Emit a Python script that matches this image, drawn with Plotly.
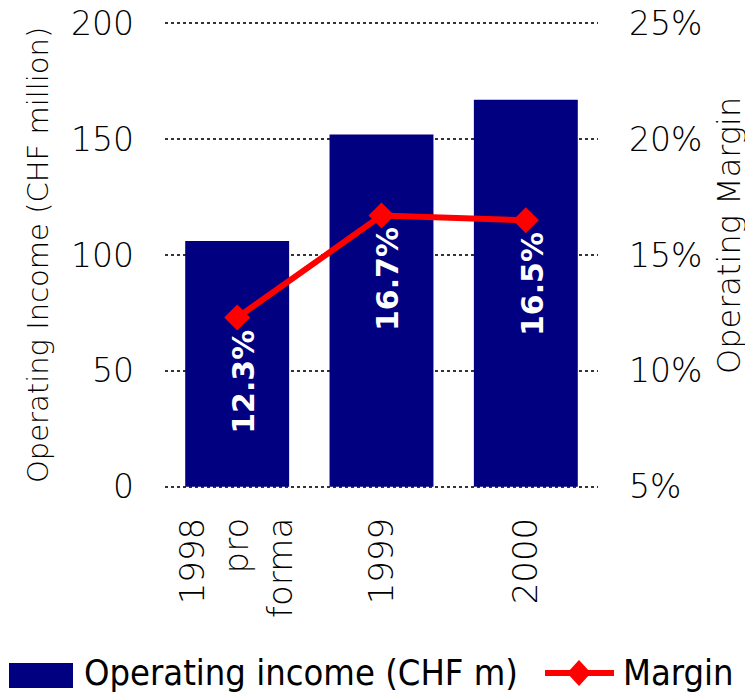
import plotly.graph_objects as go

categories = ["1998<br>pro<br>forma", "1999", "2000"]
operating_income = [106, 152, 167]
margin_pct = [12.3, 16.7, 16.5]
margin_labels = ["12.3%", "16.7%", "16.5%"]
left_ticks = [0, 50, 100, 150, 200]
right_ticks = [5, 10, 15, 20, 25]
right_tick_labels = ["5%", "10%", "15%", "20%", "25%"]
legend_names = ["Operating income (CHF m)", "Margin"]
axis_titles = ["Operating Income (CHF million)", "Operating Margin"]

FONT = "DejaVu Sans"
LEG_FONT = "DejaVu Sans Condensed"
NAVY = "#000080"
RED = "#FF0000"

fig = go.Figure()
fig.add_trace(go.Bar(
    x=categories, y=operating_income, name=legend_names[0],
    marker=dict(color=NAVY, line=dict(width=0)), yaxis="y", showlegend=False,
))
fig.add_trace(go.Scatter(
    x=categories, y=margin_pct, name=legend_names[1], yaxis="y2",
    mode="lines+markers", showlegend=False,
    line=dict(color=RED, width=6),
    marker=dict(symbol="diamond", size=20, color=RED),
))

for i, (v, t) in enumerate(zip(margin_pct, margin_labels)):
    fig.add_annotation(
        x=i, y=v, xref="x", yref="y2", text=t, showarrow=False,
        textangle=-90, yanchor="top", xanchor="center", yshift=-10, xshift=6,
        font=dict(family=FONT, size=30, color="white", weight="bold"),
    )

# paper-coordinate helpers (page pixels -> paper fraction)
W, H, L, B = 433.0, 466.0, 165.0, 488.0
def px(x):
    return (x - L) / W
def py(y):
    return (B - y) / H

# axis titles
fig.add_annotation(xref="paper", yref="paper", x=px(38), y=py(255),
                   xanchor="center", yanchor="middle", showarrow=False,
                   textangle=-90, text=axis_titles[0],
                   font=dict(family=FONT, size=29, color="black", weight=300))
fig.add_annotation(xref="paper", yref="paper", x=px(729), y=py(236),
                   xanchor="center", yanchor="middle", showarrow=False,
                   textangle=-90, text=axis_titles[1],
                   font=dict(family=FONT, size=32, color="black", weight=300))

# custom legend
fig.add_shape(type="rect", xref="paper", yref="paper",
              x0=px(9), x1=px(73), y0=py(688), y1=py(663),
              fillcolor=NAVY, line=dict(width=0))
fig.add_annotation(xref="paper", yref="paper", x=px(82), y=py(672),
                   xanchor="left", yanchor="middle", showarrow=False,
                   text=legend_names[0],
                   font=dict(family=LEG_FONT, size=36, color="black"))
fig.add_shape(type="line", xref="paper", yref="paper",
              x0=px(545), x1=px(614), y0=py(673), y1=py(673),
              line=dict(color=RED, width=6))
fig.add_shape(type="path", xref="paper", yref="paper",
              path=f"M {px(579)},{py(660)} L {px(591)},{py(673)} L {px(579)},{py(686)} L {px(567)},{py(673)} Z",
              fillcolor=RED, line=dict(width=0))
fig.add_annotation(xref="paper", yref="paper", x=px(621), y=py(672),
                   xanchor="left", yanchor="middle", showarrow=False,
                   text=legend_names[1],
                   font=dict(family=LEG_FONT, size=36, color="black"))

fig.update_layout(
    width=745, height=687,
    margin=dict(l=157, r=155, t=14, b=207, autoexpand=False),
    plot_bgcolor="white", paper_bgcolor="white",
    font=dict(family=FONT, color="black", weight=300),
    bargap=0.28,
    showlegend=False,
    xaxis=dict(
        type="category", automargin=False, range=[-0.5, 2.5],
        tickangle=-90, tickfont=dict(size=34, family=FONT, weight=300),
        showline=False, ticks="", showgrid=False, ticklabelstandoff=22,
    ),
    yaxis=dict(
        range=[-0.5, 200.5], tickvals=left_ticks, showgrid=True, automargin=False,
        gridcolor="#333333", griddash="dot", gridwidth=1.5,
        zeroline=False, showline=False, ticks="", ticklabelstandoff=30,
        ticklabeloverflow="allow",
        tickfont=dict(size=33, family=FONT, weight=300),
    ),
    yaxis2=dict(
        range=[4.95, 25.05], tickvals=right_ticks, ticktext=right_tick_labels,
        overlaying="y", side="right", showgrid=False, zeroline=False,
        showline=False, ticks="", automargin=False, ticklabelstandoff=30,
        ticklabeloverflow="allow",
        tickfont=dict(size=33, family=FONT, weight=300),
    ),
)

fig.write_html("out.html")
